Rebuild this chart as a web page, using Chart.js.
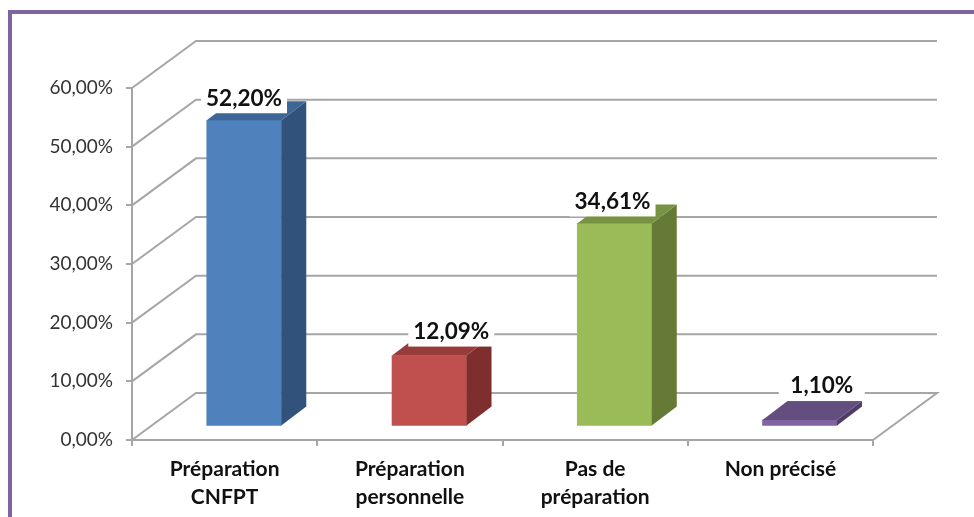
<!DOCTYPE html>
<html>
<head>
<meta charset="utf-8">
<style>
  html, body { margin: 0; padding: 0; background: #fff; overflow: hidden; }
  #frame { position: absolute; left: 8px; top: 10px; width: 966px; height: 507px; box-sizing: border-box;
           border-left: 4px solid #8064a2; border-top: 4px solid #8064a2; }
  canvas { position: absolute; left: 0; top: 0; }
</style>
<script src="https://cdn.jsdelivr.net/npm/chart.js@4"></script>
</head>
<body>
<div id="frame"></div>
<canvas id="chart" width="974" height="517"></canvas>
<script>
// Data
const categories = [['Préparation', 'CNFPT'], ['Préparation', 'personnelle'], ['Pas de', 'préparation'], ['Non précisé']];
const values = [52.20, 12.09, 34.61, 1.10];
const valueLabels = ['52,20%', '12,09%', '34,61%', '1,10%'];
const yTickLabels = ['0,00%', '10,00%', '20,00%', '30,00%', '40,00%', '50,00%', '60,00%'];

// Colours: front, side, top of each bar
const frontColors = ['#4f81bd', '#c0504d', '#9bbb59', '#8064a2'];
const sideColors = ['#31527b', '#7e2f2d', '#667a38', '#4f3d66'];
const topColors = ['#3d6596', '#963c3a', '#799344', '#644e80'];
const gridColor = '#a6a6a6';

// 3D look
const wall = { dx: 64, dy: -47 };   // back wall offset from the front axes
const seat = { dx: 19.4, dy: -13.5 }; // where the bars stand on the floor
const depth = { dx: 25, dy: -19 };  // bar depth
const labelNudge = [[0, -22], [22, -24], [-2, -22], [22, -34]];

const fake3d = {
  id: 'fake3d',
  // floor, left wall and back wall lines
  beforeDraw(chart) {
    const { ctx, chartArea: a, scales: { y } } = chart;
    ctx.save();
    ctx.strokeStyle = gridColor;
    ctx.lineWidth = 2;
    y.ticks.forEach(t => {
      const py = y.getPixelForValue(t.value);
      ctx.beginPath();
      ctx.moveTo(a.left, py);
      ctx.lineTo(a.left + wall.dx, py + wall.dy);
      ctx.lineTo(a.right + wall.dx, py + wall.dy);
      if (t.value === 0) ctx.lineTo(a.right, py);
      ctx.stroke();
    });
    ctx.restore();
  },
  beforeDatasetsDraw(chart) {
    chart.ctx.save();
    chart.ctx.translate(seat.dx, seat.dy);
  },
  afterDatasetsDraw(chart) {
    const ctx = chart.ctx;
    const quad = (pts, color) => {
      ctx.fillStyle = color;
      ctx.beginPath();
      pts.forEach((p, i) => i ? ctx.lineTo(p[0], p[1]) : ctx.moveTo(p[0], p[1]));
      ctx.closePath();
      ctx.fill();
    };
    const bars = chart.getDatasetMeta(0).data;
    bars.forEach((bar, i) => {
      const l = bar.x - bar.width / 2, r = bar.x + bar.width / 2;
      quad([[r, bar.y], [r + depth.dx, bar.y + depth.dy], [r + depth.dx, bar.base + depth.dy], [r, bar.base]], sideColors[i]);
      quad([[l, bar.y], [l + depth.dx, bar.y + depth.dy], [r + depth.dx, bar.y + depth.dy], [r, bar.y]], topColors[i]);
    });
    ctx.restore();

    // value labels on a white box
    ctx.save();
    ctx.font = 'bold 22.5px Lato';
    ctx.textAlign = 'center';
    ctx.textBaseline = 'middle';
    bars.forEach((bar, i) => {
      const cx = bar.x + seat.dx + labelNudge[i][0];
      const cy = bar.y + seat.dy + labelNudge[i][1];
      ctx.fillStyle = '#fff';
      ctx.fillRect(cx - 43, cy - 14, 86, 29);
      ctx.fillStyle = '#111';
      ctx.fillText(valueLabels[i], cx, cy);
    });
    ctx.restore();
  }
};

new Chart(document.getElementById('chart'), {
  type: 'bar',
  data: {
    labels: categories,
    datasets: [{
      data: values,
      backgroundColor: frontColors,
      barThickness: 74.5
    }]
  },
  options: {
    responsive: false,
    animation: false,
    layout: { padding: { left: 0, top: 88, right: 101, bottom: 0 } },
    plugins: { legend: { display: false }, tooltip: { enabled: false } },
    scales: {
      x: {
        afterFit: s => { s.height = 77; },
        border: { color: gridColor, width: 2 },
        grid: { color: gridColor, lineWidth: 2, drawOnChartArea: false, tickLength: 6 },
        ticks: {
          color: '#111',
          padding: 9,
          maxRotation: 0,
          autoSkip: false,
          font: { family: 'Lato', size: 21, weight: 'bold', lineHeight: 1.33 }
        }
      },
      y: {
        min: 0,
        max: 60,
        afterFit: s => { s.width = 132; },
        border: { color: gridColor, width: 2 },
        grid: { color: gridColor, lineWidth: 2, drawOnChartArea: false, tickLength: 6 },
        ticks: {
          stepSize: 10,
          color: '#333',
          padding: 13,
          font: { family: 'Lato', size: 19 },
          callback: (v, i) => yTickLabels[i]
        }
      }
    }
  },
  plugins: [fake3d]
});
</script>
</body>
</html>
